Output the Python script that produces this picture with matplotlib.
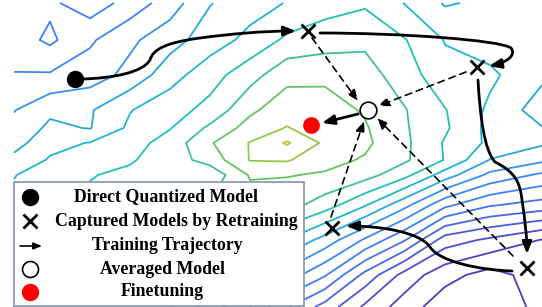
import matplotlib
matplotlib.use('Agg')
import numpy as np
import matplotlib.pyplot as plt
from matplotlib.path import Path
from matplotlib.patches import FancyArrowPatch, Rectangle

# ---------------- data (pixel-like coordinates) ----------------
grid_x = [14, 50, 90, 130, 170, 210, 250, 287, 325, 365, 405, 445, 490, 542]
grid_y = [3, 40, 75, 110, 128, 143, 160, 175, 205, 240, 275, 307]

loss_y3   = [10.4, 10.2, 9.4, 10.4, 11.5, 12.95, 13.55, 14.05, 14.6, 14.85, 13.95, 12.9, 13.2, 13.4]
loss_y40  = [10.5, 9.8, 10.85, 11.8, 12.6, 13.5, 14.3, 15.2, 15.5, 15.8, 15.05, 13.95, 13.5, 13.3]
loss_y75  = [11.05, 11.1, 11.5, 12.3, 13.6, 14.6, 15.6, 16.7, 16.8, 16.4, 15.5, 14.3, 14.2, 13.2]
loss_y110 = [11.95, 12.8, 12.9, 13.95, 14.6, 15.3, 16.8, 17.58, 17.4, 16.9, 16.05, 15.05, 13.8, 12.5]
loss_y128 = [12.3, 13.2, 12.95, 14.2, 14.95, 16.2, 17.4, 18.05, 17.5, 17.1, 16.1, 15.15, 13.7, 13.05]
loss_y143 = [12.6, 13.7, 14.05, 14.6, 15.4, 16.9, 18.05, 19.12, 17.8, 17.2, 16.2, 14.9, 13.8, 13.15]
loss_y160 = [13.3, 14.1, 14.4, 14.9, 15.5, 16.4, 18.05, 18.1, 17.3, 16.9, 16.15, 14.95, 12.95, 12.2]
loss_y175 = [13.95, 14.6, 14.95, 15.2, 15.6, 15.3, 17.1, 17.05, 16.9, 16.4, 15.3, 13.5, 11.75, 10.8]
loss_y205 = [14.3, 14.8, 15.2, 15.5, 15.8, 16.1, 16.5, 16.4, 15.5, 14.1, 12.3, 10.25, 9.1, 8.6]
loss_y240 = [14.5, 15.05, 15.4, 15.7, 16.05, 16.2, 15.9, 13.95, 12.6, 10.85, 9.05, 6.5, 5.8, 4.95]
loss_y275 = [14.6, 15.05, 15.3, 15.5, 15.4, 14.6, 13.7, 11.55, 10.1, 7.7, 5.6, 4.35, 3.6, 4.5]
loss_y307 = [14.6, 14.8, 14.95, 14.8, 14.05, 12.5, 10.95, 9.1, 7.6, 5.8, 4.5, 3.4, 3.3, 4.3]

levels = [4, 5, 6, 7, 8, 9, 10, 11, 12, 13, 14, 15, 16, 17, 18, 19]
level_colors = ['#5636c0', '#5440c8', '#4f4cd4', '#4a5ade', '#4668e8', '#4274f0',
                '#3f80fa', '#3c86f8', '#3592f0', '#28a6e0', '#1eb6d2', '#22c0b6',
                '#40c290', '#68c462', '#94c848', '#ccc232']

direct_xy = (75, 79)
captured_x = [308, 477, 332, 527]
captured_y = [31, 67, 228, 268]
averaged_xy = (368, 110)
finetune_xy = (311, 125)

# training trajectories (cubic Bezier waypoints)
traj_1 = [(83, 79), (115, 78), (143, 72), (150, 60), (153, 48), (170, 42), (200, 38),
          (230, 34), (262, 31), (296, 31)]
traj_2 = [(320, 33), (400, 33), (500, 40), (511, 48), (517, 56), (505, 63), (489, 66)]
traj_3 = [(478, 80), (480, 115), (484, 150), (495, 162), (515, 172), (520, 182), (522, 200),
          (525, 220), (527, 238), (527, 254)]
traj_4 = [(512, 271), (480, 270), (440, 262), (430, 247), (420, 232), (380, 226), (346, 226)]

avg_starts = [(312, 38), (466, 72), (331, 217), (513, 256)]
avg_ends = [(358, 101), (378, 106), (364, 121), (377, 118)]
ft_start = (358, 114)
ft_end = (322, 123)

legend_labels = ['Direct Quantized Model', 'Captured Models by Retraining',
                 'Training Trajectory', 'Averaged Model', 'Finetuning']
legend_text_x = [166, 176, 167, 163, 162]
legend_row_y = [197, 221, 246, 269, 292]

# ---------------- figure ----------------
fig = plt.figure(figsize=(5.42, 3.07), dpi=100)
ax = fig.add_axes([0, 0, 1, 1])
ax.set_xlim(0, 542)
ax.set_ylim(307, 0)
ax.axis('off')

Z = np.array([loss_y3, loss_y40, loss_y75, loss_y110, loss_y128, loss_y143, loss_y160,
              loss_y175, loss_y205, loss_y240, loss_y275, loss_y307])
ax.contour(grid_x, grid_y, Z, levels=levels, colors=level_colors, linewidths=1.3, zorder=1)

head = '-|>,head_length=0.55,head_width=0.22'
for pts in [traj_1, traj_2, traj_3, traj_4]:
    codes = [Path.MOVETO] + [Path.CURVE4] * (len(pts) - 1)
    arr = FancyArrowPatch(path=Path(pts, codes), arrowstyle=head, mutation_scale=13,
                          lw=2.0, color='black', zorder=3)
    ax.add_patch(arr)

for s, e in zip(avg_starts, avg_ends):
    arr = FancyArrowPatch(s, e, arrowstyle=head, mutation_scale=12, lw=1.2,
                          linestyle=(0, (4, 3)), color='black', zorder=3,
                          shrinkA=0, shrinkB=0)
    ax.add_patch(arr)

ax.add_patch(FancyArrowPatch(ft_start, ft_end, arrowstyle=head, mutation_scale=13, lw=2.0,
                             color='black', zorder=3, shrinkA=0, shrinkB=0))

ax.plot(*direct_xy, 'o', ms=11.5, color='black', zorder=5)
ax.plot(captured_x, captured_y, 'x', ms=10, mew=2.0, color='black', zorder=5, ls='none')
ax.plot(*averaged_xy, 'o', ms=12, mfc='white', mec='black', mew=1.2, zorder=5)
ax.plot(*finetune_xy, 'o', ms=11, color='#ff0000', zorder=5)

# ---------------- legend ----------------
ax.add_patch(Rectangle((14, 182), 290, 124, facecolor='white', edgecolor='#8a9ab8',
                       lw=1.3, zorder=6))
mx = 30
ax.plot(mx, legend_row_y[0], 'o', ms=11.5, color='black', zorder=7)
ax.plot(mx, legend_row_y[1], 'x', ms=10, mew=2.0, color='black', zorder=7)
ax.add_patch(FancyArrowPatch((20, legend_row_y[2]), (42, legend_row_y[2]),
                             arrowstyle='-|>,head_length=0.5,head_width=0.2',
                             mutation_scale=10, lw=1.2, color='black', zorder=7,
                             shrinkA=0, shrinkB=0))
ax.plot(mx, legend_row_y[3], 'o', ms=11.5, mfc='white', mec='black', mew=1.2, zorder=7)
ax.plot(mx, legend_row_y[4], 'o', ms=11.5, color='#ff0000', zorder=7)

for lab, tx, ty in zip(legend_labels, legend_text_x, legend_row_y):
    ax.text(tx, ty, lab, ha='center', va='center', fontsize=12.8, fontweight='bold',
            family=['Liberation Serif', 'DejaVu Serif'], zorder=8)

fig.savefig('out.png', dpi=100)
